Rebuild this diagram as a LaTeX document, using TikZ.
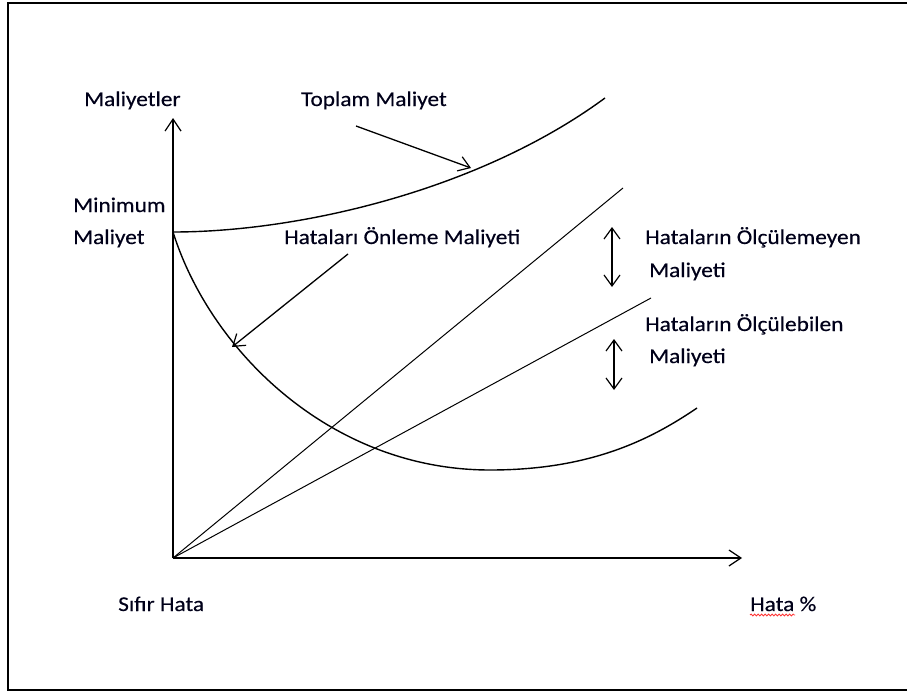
\documentclass[tikz,border=0pt]{standalone}
\usepackage{fontspec}
\setmainfont{Carlito}[FakeStretch=1.11,FakeBold=0.4]
\usetikzlibrary{arrows.meta,decorations.pathmorphing}
\tikzset{
  openhead/.tip={Straight Barb[length=12pt,width=16pt,line width=1.2pt]},
  axis/.style={line width=1.6pt,-openhead},
  curve/.style={line width=1.4pt},
  ray/.style={line width=1pt},
  pointer/.style={line width=1.3pt,-{Straight Barb[length=11pt,width=15pt,line width=1.2pt]}},
  span/.style={line width=1.3pt,{Straight Barb[length=11pt,width=16pt,line width=1.2pt]}-{Straight Barb[length=11pt,width=16pt,line width=1.2pt]}},
  lbl/.style={anchor=base west,inner sep=0pt,text=black!90!blue,font=\fontsize{21}{25}\selectfont}
}
\begin{document}
\begin{tikzpicture}[x=1pt,y=-1pt]
\useasboundingbox (0,0) rectangle (907,693);
% outer frame (its right side runs past the page)
\draw[line width=2.2pt] (915,3) -- (8,3) -- (8,690) -- (915,690);

% axes
\coordinate (O) at (173,558);
\coordinate (ytip) at (173,118);
\coordinate (xtip) at (742,558);
\draw[axis] (O) -- (ytip);
\draw[axis] (O) -- (xtip);

% cost lines from the origin
\coordinate (l1) at (623,188);
\coordinate (l2) at (651,298);
\draw[ray] (O) -- (l1);
\draw[ray] (O) -- (l2);

% total cost and prevention cost curves
\coordinate (M) at (173,232);
\coordinate (t1) at (605,98);
\coordinate (pmin) at (490,470);
\coordinate (p1) at (697,408);
\draw[curve] (M) .. controls (300,232) and (480,190) .. (t1);
\draw[curve] (M) .. controls (210,350) and (330,470) .. (pmin)
                 .. controls (590,470) and (650,440) .. (p1);

% labels
\node[lbl] (ylab) at (84,106) {Maliyetler};
\node[lbl] (tlab) at (301,106) {Toplam Maliyet};
\node[lbl] (min1) at (73,212) {Minimum};
\node[lbl] (min2) at (73,244) {Maliyet};
\node[lbl] (plab) at (284,244) {Hataları Önleme Maliyeti};
\node[lbl] (u1) at (645,244) {Hataların Ölçülemeyen};
\node[lbl] (u2) at (649,277) {Maliyeti};
\node[lbl] (m1) at (645,331) {Hataların Ölçülebilen};
\node[lbl] (m2) at (649,363) {Maliyeti};
\node[lbl] (zero) at (118,611) {Sıfır Hata};
\node[lbl] (xlab) at (750,611) {Hata \%};

% pointers to the curves
\coordinate (a1s) at (356,126);
\coordinate (a1e) at (471,168);
\coordinate (a2s) at (348,254);
\coordinate (a2e) at (232,347);
\draw[pointer] (a1s) -- (a1e);
\draw[pointer] (a2s) -- (a2e);

% spans between the lines
\coordinate (s1t) at (612,227);
\coordinate (s1b) at (612,287);
\coordinate (s2t) at (614,339);
\coordinate (s2b) at (614,390);
\draw[span] (s1t) -- (s1b);
\draw[span] (s2t) -- (s2b);

% wavy underline below "Hata"
\coordinate (w1) at (750,615);
\coordinate (w2) at (795,615);
\draw[red!80!white,line width=0.8pt,decorate,decoration={snake,amplitude=1pt,segment length=3.5pt}] (w1) -- (w2);
\end{tikzpicture}
\end{document}
